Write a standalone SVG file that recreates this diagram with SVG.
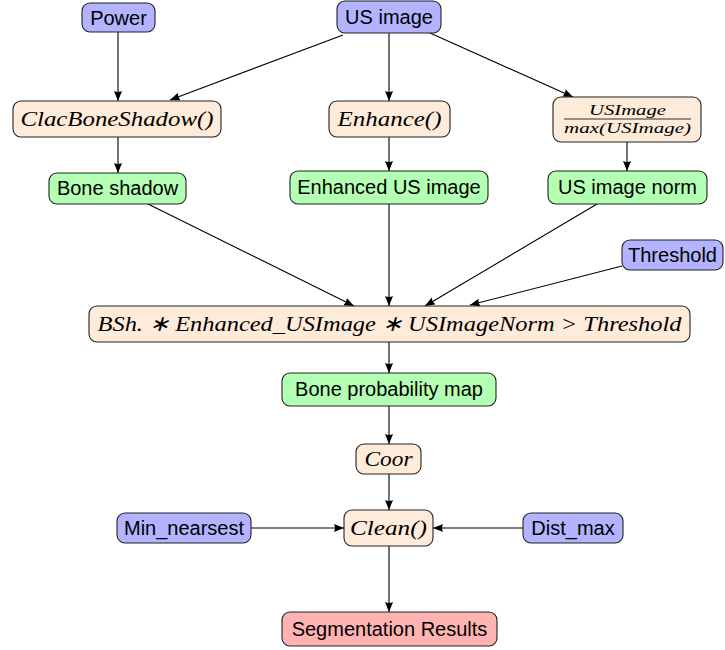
<svg xmlns="http://www.w3.org/2000/svg" width="725" height="650" viewBox="0 0 725 650">
<style>
.n rect{stroke:#222;stroke-width:1.1}
.in rect{fill:#b3b3ff}
.op rect{fill:#ffebd9}
.dt rect{fill:#b3ffb3}
.res rect{fill:#ffb3b3}
.t{font-family:"Liberation Sans",Arial,sans-serif;font-size:20px;fill:#000;text-anchor:middle}
.m{font-family:"Liberation Serif","Times New Roman",serif;font-style:italic;font-size:22px;fill:#000;text-anchor:middle}
.f{font-family:"Liberation Serif","Times New Roman",serif;font-style:italic;font-size:15px;fill:#000;text-anchor:middle}
#edges line{stroke:#000;stroke-width:1.1;marker-end:url(#ah)}
</style>
<defs>
<marker id="ah" viewBox="0 0 10 8" refX="10" refY="4" markerWidth="10" markerHeight="8" markerUnits="userSpaceOnUse" orient="auto">
<path d="M0,0 L10,4 L0,8 Q2,4 0,0 Z" fill="#000"/>
</marker>
</defs>
<rect width="725" height="650" fill="#fff"/>
<g id="edges">
<line x1="118" y1="32" x2="118" y2="101"/>
<line x1="343" y1="35" x2="170" y2="100"/>
<line x1="389" y1="33" x2="389" y2="101"/>
<line x1="430" y1="33" x2="573" y2="97"/>
<line x1="118" y1="137" x2="118" y2="173"/>
<line x1="389" y1="137" x2="389" y2="171"/>
<line x1="627" y1="142" x2="627" y2="171"/>
<line x1="148" y1="204" x2="354" y2="306"/>
<line x1="389" y1="204" x2="389" y2="306"/>
<line x1="597" y1="204" x2="425" y2="306"/>
<line x1="622" y1="266" x2="470" y2="305"/>
<line x1="389" y1="342" x2="389" y2="373"/>
<line x1="389" y1="406" x2="389" y2="444"/>
<line x1="389" y1="474" x2="389" y2="510"/>
<line x1="251" y1="528" x2="344" y2="528"/>
<line x1="523" y1="528" x2="433" y2="528"/>
<line x1="389" y1="546" x2="389" y2="612"/>
</g>
<g id="power" class="n in"><rect x="82" y="3" width="73" height="29" rx="8"/><text class="t" x="118.5" y="25">Power</text></g>
<g id="usimage" class="n in"><rect x="337" y="1" width="104" height="32" rx="8"/><text class="t" x="389" y="24">US image</text></g>
<g id="clac" class="n op"><rect x="13" y="101" width="208" height="36" rx="8"/><text class="m" x="117" y="126" textLength="193" lengthAdjust="spacingAndGlyphs">ClacBoneShadow()</text></g>
<g id="enhance" class="n op"><rect x="329" y="101" width="121" height="36" rx="8"/><text class="m" x="389.5" y="126" textLength="104" lengthAdjust="spacingAndGlyphs">Enhance()</text></g>
<g id="norm" class="n op"><rect x="553" y="97" width="148" height="45" rx="8"/><text class="f" x="627.5" y="115" textLength="77" lengthAdjust="spacingAndGlyphs">USImage</text><line x1="564" y1="119" x2="691" y2="119" stroke="#000" stroke-width="0.8"/><text class="f" x="627.5" y="133" textLength="127" lengthAdjust="spacingAndGlyphs">max(USImage)</text></g>
<g id="boneshadow" class="n dt"><rect x="49" y="173" width="137" height="31" rx="8"/><text class="t" x="117.5" y="195">Bone shadow</text></g>
<g id="enhanced" class="n dt"><rect x="290" y="171" width="198" height="33" rx="8"/><text class="t" x="389" y="194">Enhanced US image</text></g>
<g id="usnorm" class="n dt"><rect x="548" y="171" width="159" height="33" rx="8"/><text class="t" x="627.5" y="194">US image norm</text></g>
<g id="threshold" class="n in"><rect x="622" y="240" width="101" height="30" rx="8"/><text class="t" x="672.5" y="262">Threshold</text></g>
<g id="formula" class="n op"><rect x="89" y="306" width="601" height="36" rx="8"/><text class="m" x="389.5" y="331" textLength="584" lengthAdjust="spacingAndGlyphs">BSh. ∗ Enhanced_USImage ∗ USImageNorm &gt; Threshold</text></g>
<g id="bpm" class="n dt"><rect x="282" y="373" width="214" height="33" rx="8"/><text class="t" x="389" y="396">Bone probability map</text></g>
<g id="coor" class="n op"><rect x="356" y="444" width="65" height="30" rx="8"/><text class="m" x="388.5" y="466" textLength="48" lengthAdjust="spacingAndGlyphs">Coor</text></g>
<g id="clean" class="n op"><rect x="344" y="510" width="89" height="36" rx="8"/><text class="m" x="388.5" y="535" textLength="77" lengthAdjust="spacingAndGlyphs">Clean()</text></g>
<g id="minnear" class="n in"><rect x="117" y="513" width="134" height="30" rx="8"/><text class="t" x="184" y="535">Min_nearsest</text></g>
<g id="distmax" class="n in"><rect x="523" y="513" width="100" height="30" rx="8"/><text class="t" x="573" y="535">Dist_max</text></g>
<g id="seg" class="n res"><rect x="282" y="612" width="215" height="34" rx="8"/><text class="t" x="389.5" y="636">Segmentation Results</text></g>
</svg>
